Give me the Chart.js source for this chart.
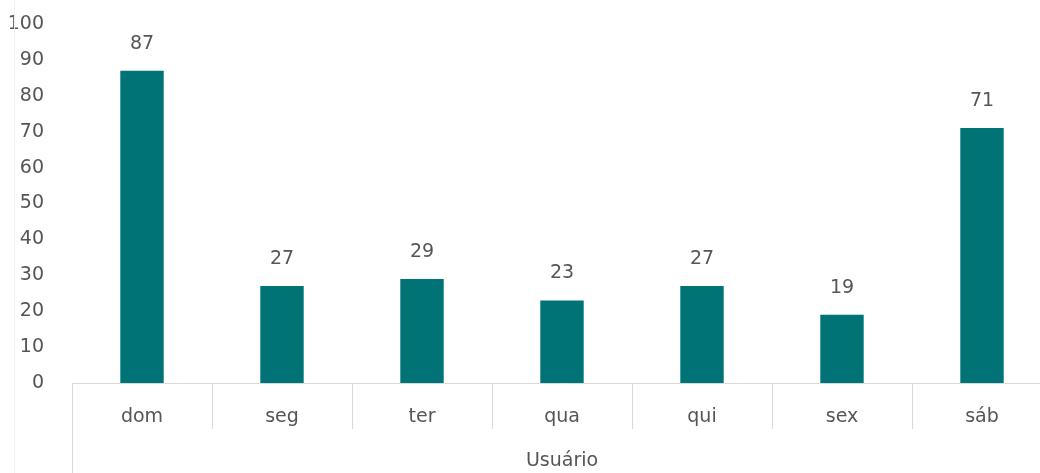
<!DOCTYPE html>
<html>
<head>
<meta charset="utf-8">
<script src="https://cdn.jsdelivr.net/npm/chart.js@4/dist/chart.umd.min.js"></script>
<style>
  html, body { margin: 0; padding: 0; background: #fff; overflow: hidden; }
  #wrap { width: 1052px; height: 473px; }
</style>
</head>
<body>
<div id="wrap"><canvas id="diasChart" width="1052" height="473"></canvas></div>
<script>
// dias da semana e acessos
const dias = ['dom', 'seg', 'ter', 'qua', 'qui', 'sex', 'sáb'];
const acessos = [87, 27, 29, 23, 27, 19, 71];
const grupo = 'Usuário';

const corBarra = '#007377';
const corTexto = '#555555';
const corLinha = '#d9d9d9';
const fonte = { family: 'DejaVu Sans', size: 19 };

// rótulos de valor acima das barras
const rotulos = {
    id: 'rotulos',
    afterDatasetsDraw(chart) {
        const ctx = chart.ctx;
        const meta = chart.getDatasetMeta(0);
        ctx.save();
        ctx.font = fonte.size + 'px ' + fonte.family;
        ctx.fillStyle = corTexto;
        ctx.textAlign = 'center';
        ctx.textBaseline = 'middle';
        meta.data.forEach((bar, i) => {
            ctx.fillText(chart.data.datasets[0].data[i], bar.x, bar.y - 27);
        });
        ctx.restore();
    }
};

// linha da esquerda do grupo de categorias e borda fina do lado
const bordas = {
    id: 'bordas',
    afterDraw(chart) {
        const ctx = chart.ctx;
        const area = chart.chartArea;
        ctx.save();
        ctx.lineWidth = 1;
        ctx.strokeStyle = corLinha;
        ctx.beginPath();
        ctx.moveTo(area.left + 0.5, area.bottom);
        ctx.lineTo(area.left + 0.5, chart.height);
        ctx.stroke();
        ctx.strokeStyle = '#f0f0f0';
        ctx.beginPath();
        ctx.moveTo(14.5, 0);
        ctx.lineTo(14.5, chart.height);
        ctx.stroke();
        ctx.restore();
    }
};

new Chart(document.getElementById('diasChart'), {
    type: 'bar',
    data: {
        labels: dias,
        datasets: [{
            data: acessos,
            backgroundColor: corBarra,
            borderWidth: 0,
            barPercentage: 0.31,
            categoryPercentage: 1
        }]
    },
    options: {
        responsive: false,
        animation: false,
        layout: { padding: { top: 24, left: 0, right: 0, bottom: 0 } },
        plugins: {
            legend: { display: false },
            tooltip: { enabled: false }
        },
        scales: {
            x: {
                grid: {
                    display: true,
                    drawOnChartArea: false,
                    drawTicks: true,
                    tickLength: 46,
                    color: corLinha,
                    offset: true
                },
                border: { display: true, color: corLinha },
                ticks: { color: corTexto, font: fonte, padding: -23 },
                title: {
                    display: true,
                    text: grupo,
                    color: corTexto,
                    font: fonte,
                    padding: { top: 0, bottom: 1 }
                },
                afterFit(scale) { scale.height = 90; }
            },
            y: {
                min: 0,
                max: 100,
                grid: { display: false },
                border: { display: false },
                ticks: { stepSize: 10, color: corTexto, font: fonte, padding: 20 },
                afterFit(scale) {
                    scale.width = 72;
                    scale.paddingTop = 0;
                    scale.paddingBottom = 0;
                }
            }
        }
    },
    plugins: [rotulos, bordas]
});
</script>
</body>
</html>
